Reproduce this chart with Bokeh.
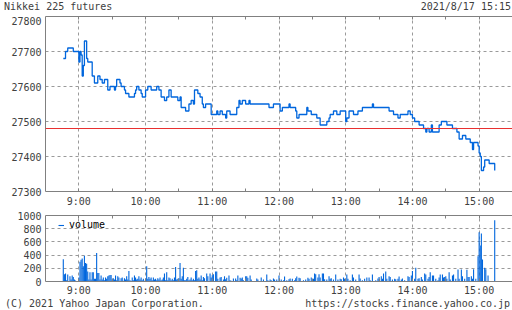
from bokeh.plotting import figure
from bokeh.layouts import column
from bokeh.models import Range1d, LinearAxis, FixedTicker, Span, Div
from bokeh.embed import file_html
from bokeh.resources import INLINE

# ---------------- data ----------------
title_text = "Nikkei 225 futures"
date_text = "2021/8/17 15:15"
copyright_text = "(C) 2021 Yahoo Japan Corporation."
url_text = "https://stocks.finance.yahoo.co.jp"

hour_ticks = [9, 10, 11, 12, 13, 14, 15]
hour_labels = ["9:00", "10:00", "11:00", "12:00", "13:00", "14:00", "15:00"]
half_ticks = [9.5, 10.5, 11.5, 12.5, 13.5, 14.5]
price_ticks = [27300, 27400, 27500, 27600, 27700, 27800]
volume_ticks = [0, 200, 400, 600, 800, 1000]
reference_price = 27480
session_start_hour = 8.75  # 8:45

# price changes: minutes after 8:45 and the price from that minute on
price_min = [1, 3, 5, 10, 15, 16, 17, 18, 19, 20, 22, 23, 27, 29, 32, 34, 36, 38, 41, 43,
             47, 48, 49, 52, 53, 56, 57, 60, 65, 66, 67, 69, 71, 72, 75, 77, 80, 85, 87, 89,
             92, 94, 96, 98, 104, 106, 107, 111, 114, 116, 118, 119, 122, 124, 126, 127, 129, 134, 139, 140,
             142, 144, 147, 148, 151, 157, 159, 160, 162, 165, 168, 169, 186, 190, 196, 198, 204, 205, 210, 211,
             213, 220, 221, 224, 229, 232, 238, 240, 241, 244, 247, 250, 255, 256, 258, 262, 266, 270, 279, 280,
             294, 298, 302, 304, 311, 313, 315, 317, 321, 325, 327, 328, 330, 332, 333, 339, 341, 346, 351, 355,
             357, 360, 363, 367, 369, 370, 374, 375, 376, 377, 379, 380, 384, 389]
price_val = [27680, 27700, 27710, 27700, 27670, 27700, 27690, 27630, 27660, 27730, 27680, 27670, 27630, 27610, 27630, 27620, 27610, 27620, 27590, 27600,
             27590, 27600, 27620, 27610, 27600, 27590, 27580, 27570, 27580, 27590, 27600, 27590, 27580, 27570, 27590, 27600, 27590, 27600, 27590, 27570,
             27560, 27570, 27590, 27570, 27560, 27570, 27540, 27530, 27550, 27560, 27550, 27590, 27580, 27570, 27550, 27540, 27550, 27520, 27530, 27520,
             27530, 27520, 27510, 27530, 27520, 27540, 27560, 27550, 27560, 27550, 27560, 27550, 27540, 27550, 27530, 27540, 27550, 27540, 27530, 27510,
             27520, 27540, 27530, 27520, 27510, 27490, 27500, 27510, 27520, 27530, 27520, 27530, 27500, 27510, 27530, 27520, 27530, 27540, 27550, 27540,
             27530, 27520, 27510, 27520, 27530, 27520, 27510, 27500, 27490, 27480, 27470, 27480, 27470, 27490, 27470, 27490, 27500, 27490, 27480, 27470,
             27450, 27460, 27450, 27440, 27420, 27440, 27430, 27410, 27400, 27360, 27370, 27390, 27380, 27360]

# volume per minute: minutes after 8:45 and volume
vol_min = [1, 2, 3, 4, 5, 7, 8, 9, 10, 11, 12, 15, 16, 17, 18, 19, 20, 21, 22, 23,
           24, 25, 26, 27, 28, 29, 30, 31, 32, 33, 34, 35, 36, 37, 38, 39, 40, 41, 42, 43,
           44, 45, 46, 47, 48, 49, 50, 51, 52, 53, 54, 55, 56, 57, 58, 59, 60, 61, 62, 63,
           64, 65, 66, 67, 68, 69, 70, 71, 72, 73, 74, 75, 76, 77, 78, 79, 80, 81, 82, 83,
           84, 85, 86, 87, 88, 89, 90, 91, 92, 93, 94, 95, 96, 97, 98, 99, 100, 101, 102, 103,
           104, 105, 106, 107, 108, 109, 110, 111, 112, 113, 114, 115, 116, 117, 118, 119, 120, 121, 122, 123,
           124, 125, 126, 127, 128, 130, 131, 133, 134, 135, 136, 138, 139, 140, 142, 143, 145, 146, 147, 148,
           150, 151, 152, 154, 156, 157, 158, 160, 161, 162, 163, 165, 166, 167, 169, 170, 175, 176, 179, 181,
           184, 185, 187, 188, 190, 191, 193, 195, 197, 199, 200, 202, 204, 205, 207, 209, 210, 211, 213, 214,
           217, 219, 221, 222, 224, 226, 227, 228, 230, 231, 232, 234, 235, 236, 238, 240, 241, 242, 244, 246,
           248, 250, 251, 253, 254, 256, 257, 259, 261, 262, 264, 267, 268, 270, 272, 274, 276, 277, 279, 282,
           284, 285, 287, 288, 289, 291, 292, 294, 295, 297, 299, 300, 302, 303, 305, 306, 308, 311, 312, 314,
           315, 317, 318, 320, 321, 323, 324, 326, 327, 329, 330, 331, 333, 334, 336, 338, 339, 340, 342, 343,
           344, 345, 346, 348, 349, 351, 352, 354, 356, 357, 359, 360, 362, 364, 365, 366, 368, 369, 370, 372,
           374, 375, 376, 377, 378, 380, 381, 383, 389]
vol_val = [338, 110, 120, 20, 105, 80, 30, 90, 70, 30, 15, 60, 300, 330, 350, 230, 390, 280, 270, 150,
           30, 140, 30, 140, 140, 40, 40, 430, 130, 130, 30, 90, 30, 60, 20, 60, 40, 80, 90, 100,
           100, 30, 50, 30, 90, 20, 80, 60, 10, 50, 60, 10, 50, 30, 80, 30, 160, 20, 10, 60,
           20, 90, 60, 30, 40, 80, 30, 60, 20, 40, 10, 40, 230, 40, 70, 40, 60, 20, 60, 30,
           40, 20, 50, 30, 60, 20, 30, 60, 120, 20, 140, 20, 60, 50, 20, 40, 20, 60, 220, 30,
           40, 50, 280, 40, 80, 210, 20, 20, 40, 70, 20, 30, 60, 20, 40, 20, 160, 170, 40, 60,
           30, 90, 20, 70, 50, 120, 80, 120, 60, 95, 110, 150, 150, 40, 60, 70, 30, 80, 35, 55,
           90, 20, 10, 45, 45, 20, 90, 55, 45, 60, 20, 80, 80, 55, 90, 30, 45, 30, 60, 30,
           105, 20, 30, 20, 45, 30, 30, 90, 30, 20, 75, 20, 35, 45, 40, 20, 50, 75, 55, 50,
           20, 30, 55, 40, 60, 40, 120, 110, 60, 110, 60, 120, 120, 35, 30, 80, 40, 50, 30, 105,
           30, 40, 35, 60, 40, 105, 40, 20, 105, 60, 30, 105, 45, 20, 40, 60, 60, 20, 105, 20,
           45, 70, 80, 40, 120, 150, 40, 80, 70, 30, 40, 35, 40, 75, 30, 45, 20, 80, 70, 90,
           160, 40, 207, 40, 50, 70, 30, 120, 105, 40, 70, 140, 90, 90, 40, 20, 60, 105, 105, 60,
           70, 80, 40, 140, 30, 90, 105, 40, 180, 40, 180, 80, 40, 177, 70, 70, 80, 40, 187, 40,
           384, 747, 545, 727, 333, 207, 187, 90, 929]

# ---------------- style ----------------
FONT = "DejaVu Sans Mono"
FS = "10px"
TXT = "#404040"
AX = "#808080"
GRID = "#9a9a9a"
BLUE = "#0066dd"
RED = "#e83030"

price_x = [session_start_hour + m / 60 for m in price_min]
vol_x = [session_start_hour + m / 60 for m in vol_min]
hour_overrides = {h: l for h, l in zip(hour_ticks, hour_labels)}


def style_x(ax, labels=True, standoff=3):
    ax.ticker = FixedTicker(ticks=hour_ticks, minor_ticks=half_ticks)
    ax.axis_line_color = AX
    ax.major_tick_line_color = AX
    ax.minor_tick_line_color = AX
    ax.major_tick_in = 3
    ax.major_tick_out = 0
    ax.minor_tick_in = 3
    ax.minor_tick_out = 0
    if labels:
        ax.major_label_overrides = hour_overrides
        ax.major_label_text_font = FONT
        ax.major_label_text_font_size = FS
        ax.major_label_text_color = TXT
        ax.major_label_standoff = standoff
    else:
        ax.major_label_overrides = {h: "" for h in hour_ticks}
        ax.major_label_text_font_size = "0px"
        ax.major_label_standoff = 0


def style_y(ax, ticks):
    ax.ticker = FixedTicker(ticks=ticks)
    ax.axis_line_color = AX
    ax.major_tick_in = 0
    ax.major_tick_out = 0
    ax.minor_tick_line_color = None
    ax.major_label_text_font = FONT
    ax.major_label_text_font_size = FS
    ax.major_label_text_color = TXT
    ax.major_label_standoff = 4


def style_grid(fig):
    for g in fig.grid:
        g.grid_line_color = GRID
        g.grid_line_dash = "3 3"
        g.grid_line_width = 1


def text_strip(height, left, right, top):
    span = ("position:absolute;top:%dpx;white-space:pre;font-family:'DejaVu Sans Mono';"
            "font-size:10px;line-height:12px;color:%s;" % (top, TXT))
    html = ('<div style="position:relative;width:512px;height:%dpx;margin:0;padding:0;">'
            '<span style="%sleft:%dpx;">%s</span>'
            '<span style="%sright:%dpx;">%s</span></div>'
            % (height, span, left[1], left[0], span, right[1], right[0]))
    return Div(text=html, width=512, height=height, margin=0, styles={"margin": "0", "padding": "0"})


# ---------------- header ----------------
hdr = text_strip(16, (title_text, 4), (date_text, 1), 1)

# ---------------- price panel ----------------
p = figure(frame_width=467, frame_height=175, title=None,
           x_range=Range1d(8.5, 15.5), y_range=Range1d(27300, 27800),
           output_backend="svg", toolbar_location=None,
           min_border_left=45, min_border_right=0, min_border_top=0, min_border_bottom=0,
           outline_line_color=None, background_fill_color="white")
style_x(p.xaxis[0], standoff=4)
style_y(p.yaxis[0], price_ticks)
top_axis = LinearAxis()
style_x(top_axis, labels=False)
p.add_layout(top_axis, "above")
style_grid(p)

p.step(price_x, price_val, mode="after", line_color=BLUE, line_width=1.3)
p.add_layout(Span(location=reference_price, dimension="width", line_color=RED, line_width=1.2))

# ---------------- volume panel ----------------
v = figure(frame_width=467, frame_height=66, title=None,
           x_range=p.x_range, y_range=Range1d(0, 1000),
           output_backend="svg", toolbar_location=None,
           min_border_left=45, min_border_right=0, min_border_top=6, min_border_bottom=0,
           outline_line_color=None, background_fill_color="white")
style_x(v.xaxis[0], standoff=3)
style_y(v.yaxis[0], volume_ticks)
top_axis2 = LinearAxis()
style_x(top_axis2, labels=False)
v.add_layout(top_axis2, "above")
style_grid(v)

v.segment(x0=vol_x, y0=[0] * len(vol_x), x1=vol_x, y1=vol_val,
          line_color=BLUE, line_width=1.1, legend_label="volume")
leg = v.legend[0]
leg.location = (13, 51)
leg.padding = 0
leg.margin = 0
leg.spacing = 0
leg.background_fill_alpha = 0
leg.border_line_color = None
leg.glyph_width = 6
leg.glyph_height = 10
leg.label_height = 10
leg.label_standoff = 5
leg.label_text_font = FONT
leg.label_text_font_size = FS
leg.label_text_color = "#000000"

# ---------------- footer ----------------
ftr = text_strip(12, (copyright_text, 5), (url_text, 2), 0)

layout = column(hdr, p, v, ftr, spacing=0)
open("out.html", "w").write(file_html(layout, INLINE))
